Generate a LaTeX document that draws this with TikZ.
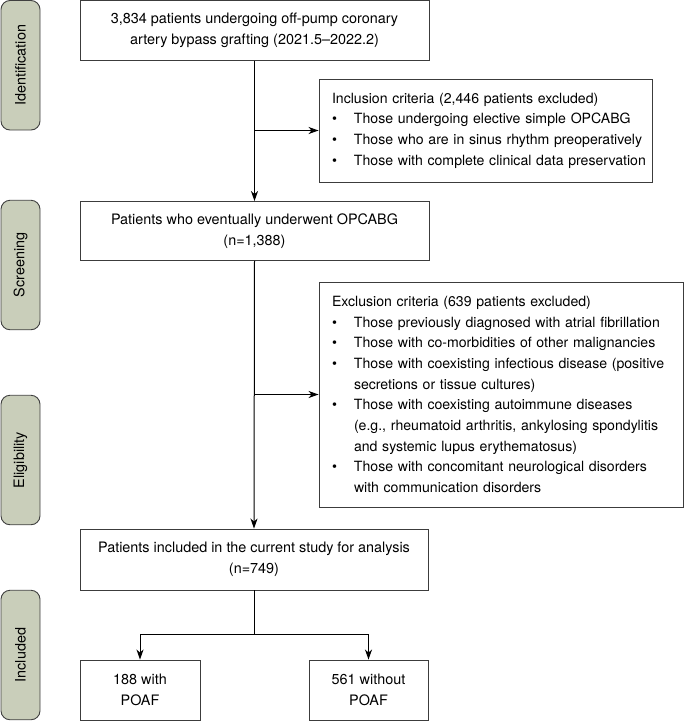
\documentclass[tikz,border=0pt]{standalone}
\usepackage{fontspec}
\setmainfont{TeX Gyre Heros}
\usetikzlibrary{arrows.meta}
\definecolor{labfill}{RGB}{201,206,186}
\definecolor{framecol}{RGB}{60,60,60}
\begin{document}
\begin{tikzpicture}[x=1pt,y=-1pt,
  font=\fontsize{14.4}{20.7}\selectfont,
  box/.style={draw=framecol, line width=0.9pt, align=center, inner sep=0pt},
  crit/.style={draw=framecol, line width=0.9pt, align=left, inner xsep=13pt, inner ysep=0pt,
    font=\fontsize{14.1}{20.7}\selectfont},
  side/.style={draw=black!75, fill=labfill, rounded corners=9pt, line width=0.9pt,
    minimum width=129.5pt, minimum height=39pt, rotate=90, inner sep=0pt},
  arr/.style={-{Stealth[length=10pt,width=7pt,inset=3pt]}, line width=1pt},
  ln/.style={line width=1pt}]
\useasboundingbox (0,0) rectangle (685,721);
\newcommand{\bul}{\makebox[22pt][l]{\textbullet}}
\newcommand{\ind}{\hspace*{22pt}}

% side labels
\node[side] (sid) at (20.5,65.25) {Identification};
\node[side] (ssc) at (20.5,265) {Screening};
\node[side] (sel) at (20.5,460) {Eligibility};
\node[side] (sin) at (20.5,655) {Included};

% main boxes
\node[box, minimum width=349pt, minimum height=59.5pt] (b1) at (254.5,30.5)
  {3,834 patients undergoing off-pump coronary\\artery bypass grafting (2021.5--2022.2)};
\node[box, minimum width=349pt, minimum height=59pt] (b3) at (254.5,231)
  {Patients who eventually underwent OPCABG\\(n=1,388)};
\node[box, minimum width=348pt, minimum height=61pt] (b4) at (254,559.5)
  {Patients included in the current study for analysis\\(n=749)};
\node[box, minimum width=120pt, minimum height=60pt] (b5) at (140,690)
  {188 with\\POAF};
\node[box, minimum width=119pt, minimum height=60pt] (b6) at (368.5,690)
  {561 without\\POAF};

% criteria boxes
\node[crit, text width=307pt, minimum height=103pt] (incl) at (485.5,130.5)
  {\mbox{Inclusion criteria (2,446 patients excluded)}\\
   \mbox{\bul Those undergoing elective simple OPCABG}\\
   \mbox{\bul Those who are in sinus rhythm preoperatively}\\
   \mbox{\bul Those with complete clinical data preservation}};
\node[crit, text width=338pt, minimum height=225pt] (excl) at (501,394.5)
  {\mbox{Exclusion criteria (639 patients excluded)}\\
   \mbox{\bul Those previously diagnosed with atrial fibrillation}\\
   \mbox{\bul Those with co-morbidities of other malignancies}\\
   \mbox{\bul Those with coexisting infectious disease (positive}\\
   \mbox{\ind secretions or tissue cultures)}\\
   \mbox{\bul Those with coexisting autoimmune diseases}\\
   \mbox{\ind (e.g., rheumatoid arthritis, ankylosing spondylitis}\\
   \mbox{\ind and systemic lupus erythematosus)}\\
   \mbox{\bul Those with concomitant neurological disorders}\\
   \mbox{\ind with communication disorders}};

% connectors
\draw[arr] (b1.south) -- (b3.north);
\coordinate (j1) at (b1.south |- incl.west);
\draw[arr] (j1) -- (incl.west);
\draw[arr] (b3.south) -- (b4.north);
\coordinate (j2) at (b3.south |- excl.west);
\draw[arr] (j2) -- (excl.west);
\coordinate (split) at (254,634);
\draw[ln] (b4.south) -- (split);
\draw[arr] (split) -- (split -| b5.north) -- (b5.north);
\draw[arr] (split) -- (split -| b6.north) -- (b6.north);
\end{tikzpicture}
\end{document}
